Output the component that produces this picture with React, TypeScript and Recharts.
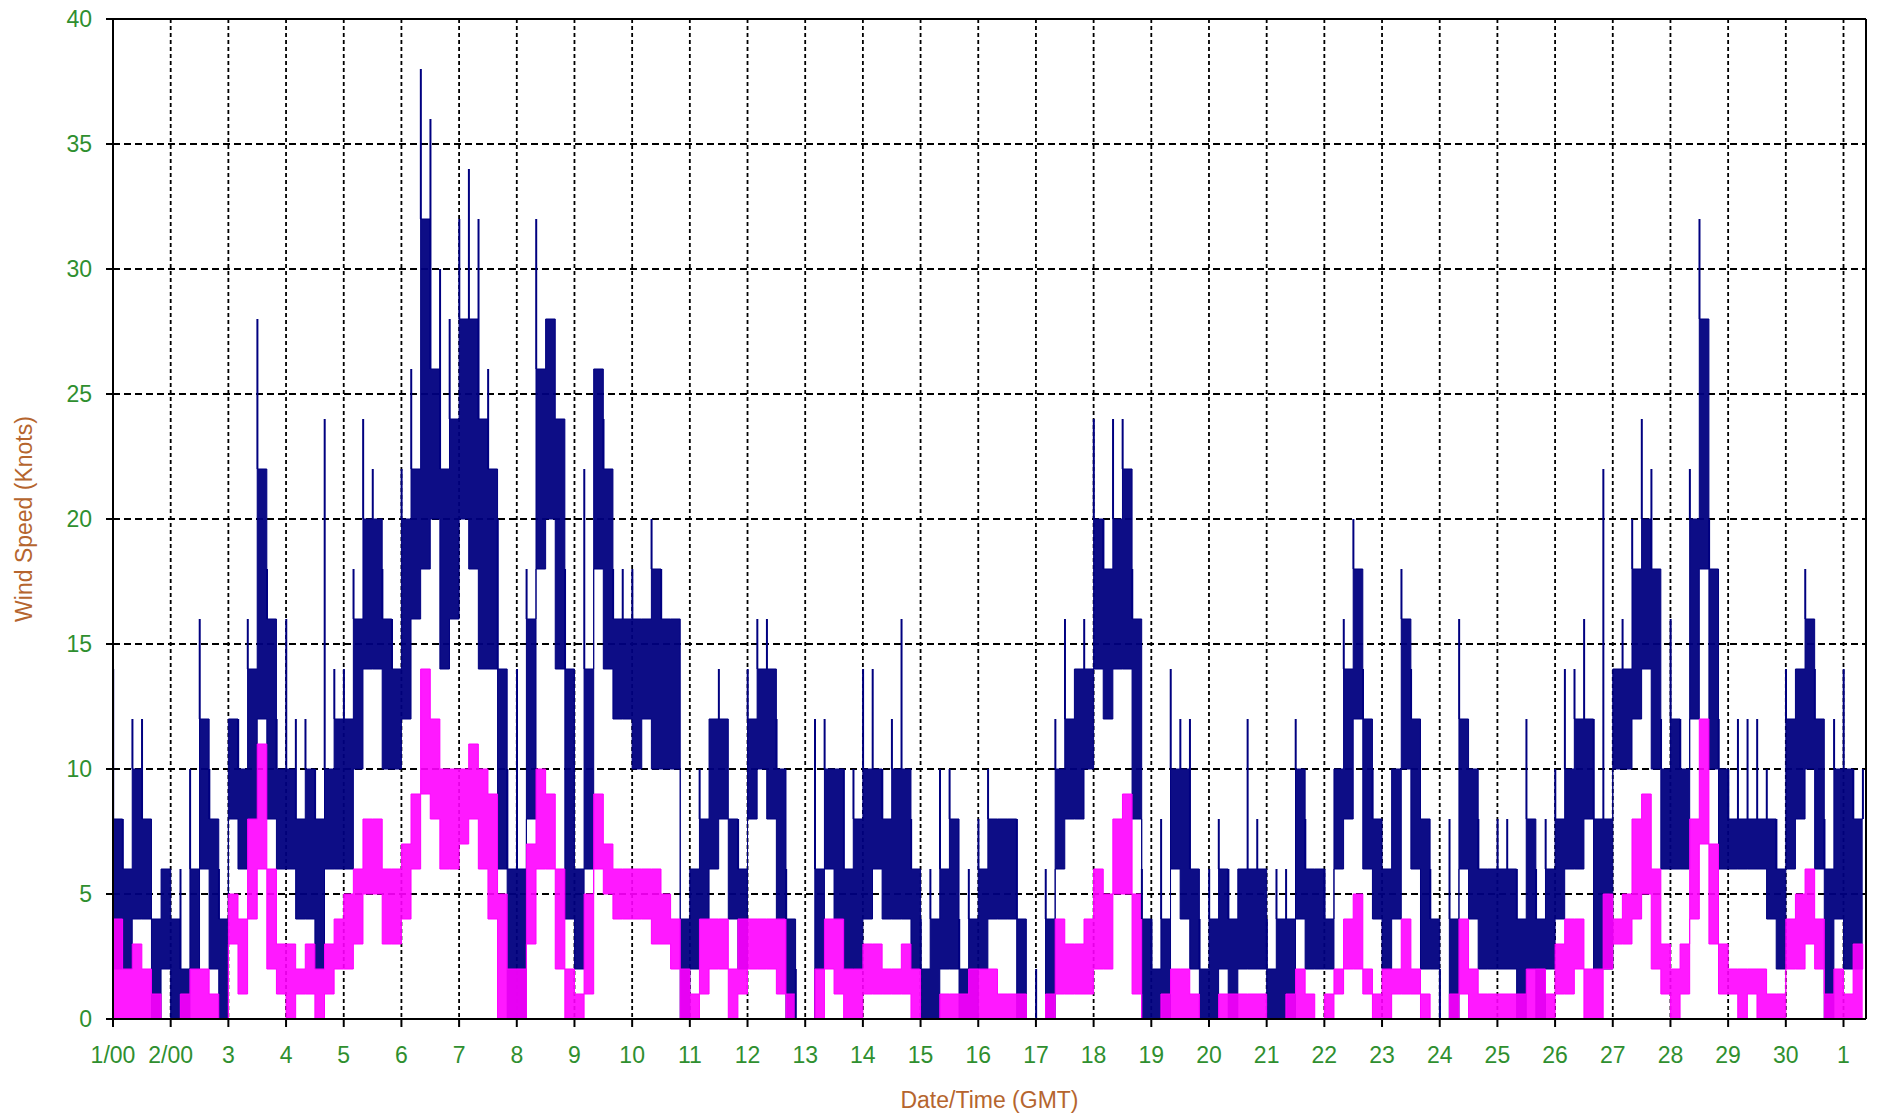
import {
  Area,
  Bar,
  CartesianGrid,
  ComposedChart,
  ReferenceLine,
  XAxis,
  YAxis,
} from 'recharts';

// #region Data — 4-hour slots (6 per day)
const SLOTS_PER_DAY = 6;

const dayLabels = [
  '1/00', '2/00', '3', '4', '5', '6', '7', '8', '9', '10', '11', '12', '13', '14', '15', '16',
  '17', '18', '19', '20', '21', '22', '23', '24', '25', '26', '27', '28', '29', '30', '1',
];

const speedTicks = [0, 5, 10, 15, 20, 25, 30, 35, 40];

// gust band: top of the dense navy thicket
const gustHi = [
  8, 6, 10, 8, 4, 6,
  4, 2, 6, 12, 8, 4,
  12, 10, 14, 22, 16, 10,
  10, 8, 10, 8, 10, 12,
  12, 16, 20, 20, 16, 14,
  20, 22, 32, 26, 22, 24,
  28, 28, 24, 22, 14, 6,
  6, 16, 26, 28, 24, 14,
  6, 14, 26, 22, 16, 16,
  16, 16, 18, 16, 16, 4,
  6, 8, 12, 12, 8, 6,
  12, 14, 14, 10, 4, 0,
  0, 6, 10, 10, 6, 8,
  10, 10, 8, 10, 10, 6,
  2, 4, 6, 8, 2, 4,
  6, 8, 8, 8, 4, 0,
  0, 4, 10, 12, 14, 14,
  20, 18, 20, 22, 16, 4,
  2, 4, 10, 10, 6, 2,
  4, 6, 4, 6, 6, 6,
  2, 4, 4, 10, 6, 6,
  4, 10, 14, 18, 12, 8,
  6, 10, 16, 12, 8, 4,
  0, 4, 12, 10, 6, 6,
  6, 6, 4, 8, 4, 6,
  8, 10, 12, 12, 8, 8,
  14, 14, 18, 20, 18, 10,
  12, 10, 20, 28, 18, 10,
  8, 8, 8, 8, 8, 6,
  12, 14, 16, 12, 6, 10,
  10, 8, 8,
];

// gust band: bottom of the dense navy thicket
const gustLo = [
  2, 2, 4, 4, 0, 2,
  0, 0, 2, 6, 2, 0,
  8, 6, 8, 12, 8, 6,
  6, 4, 4, 2, 6, 6,
  6, 10, 14, 14, 10, 10,
  12, 16, 18, 20, 14, 16,
  20, 18, 14, 14, 6, 0,
  0, 8, 18, 20, 14, 4,
  2, 6, 18, 14, 12, 12,
  10, 12, 10, 10, 10, 0,
  2, 4, 6, 8, 4, 2,
  8, 10, 8, 4, 0, 0,
  0, 2, 6, 4, 2, 2,
  4, 6, 4, 4, 4, 2,
  0, 0, 2, 2, 0, 0,
  2, 4, 4, 4, 0, 0,
  0, 0, 6, 8, 8, 10,
  14, 12, 14, 14, 8, 0,
  0, 0, 6, 4, 2, 0,
  0, 2, 0, 2, 2, 2,
  0, 0, 0, 4, 2, 2,
  2, 6, 8, 12, 6, 4,
  2, 4, 10, 6, 2, 2,
  0, 0, 6, 4, 2, 2,
  2, 2, 0, 2, 0, 2,
  4, 6, 6, 8, 2, 2,
  10, 10, 12, 14, 10, 6,
  6, 6, 12, 18, 10, 6,
  6, 6, 6, 6, 4, 2,
  6, 8, 10, 6, 0, 4,
  2, 2, 2,
];

// highest single gust spike in each slot
const gustPeak = [
  14, 8, 12, 12, 4, 6,
  4, 6, 10, 16, 10, 6,
  12, 12, 16, 28, 18, 12,
  16, 12, 12, 10, 24, 14,
  14, 18, 24, 22, 18, 16,
  22, 26, 38, 36, 30, 28,
  32, 34, 32, 26, 20, 10,
  14, 18, 32, 28, 24, 18,
  6, 22, 26, 24, 18, 18,
  18, 16, 20, 18, 16, 4,
  6, 10, 12, 14, 8, 8,
  14, 16, 16, 12, 6, 2,
  0, 12, 12, 10, 10, 10,
  14, 14, 10, 12, 16, 8,
  4, 6, 10, 10, 4, 6,
  8, 10, 8, 8, 8, 0,
  2, 6, 12, 16, 14, 16,
  24, 20, 24, 24, 18, 6,
  4, 8, 14, 12, 12, 4,
  6, 8, 6, 6, 12, 8,
  4, 6, 6, 12, 8, 6,
  6, 10, 16, 20, 14, 10,
  6, 10, 18, 14, 8, 6,
  2, 8, 16, 10, 8, 6,
  8, 8, 6, 12, 6, 8,
  10, 14, 14, 16, 12, 22,
  14, 16, 20, 24, 22, 12,
  16, 12, 22, 32, 20, 12,
  10, 12, 12, 12, 10, 8,
  14, 14, 18, 14, 8, 12,
  14, 10, 10,
];

// mean wind band (magenta)
const windHi = [
  4, 2, 3, 2, 1, 0,
  0, 1, 2, 2, 1, 0,
  5, 4, 8, 11, 6, 3,
  3, 2, 3, 2, 3, 4,
  5, 6, 8, 8, 6, 6,
  7, 9, 14, 12, 10, 10,
  10, 11, 10, 9, 5, 2,
  2, 7, 10, 9, 6, 2,
  1, 5, 9, 7, 6, 6,
  6, 6, 6, 5, 4, 2,
  1, 4, 4, 4, 2, 4,
  4, 4, 4, 4, 1, 0,
  0, 2, 4, 4, 2, 2,
  3, 3, 2, 2, 3, 2,
  0, 0, 1, 1, 1, 2,
  2, 2, 1, 1, 1, 0,
  0, 1, 4, 3, 3, 4,
  6, 5, 8, 9, 5, 0,
  0, 1, 2, 2, 1, 0,
  0, 1, 1, 1, 1, 1,
  0, 0, 1, 2, 1, 0,
  1, 2, 4, 5, 2, 1,
  2, 2, 4, 2, 1, 0,
  0, 1, 4, 2, 1, 1,
  1, 1, 1, 2, 2, 1,
  3, 4, 4, 2, 2, 5,
  4, 5, 8, 9, 6, 3,
  2, 3, 8, 12, 7, 3,
  2, 2, 2, 2, 1, 1,
  4, 5, 6, 4, 1, 2,
  1, 3, 2,
];

const windLo = [
  0, 0, 0, 0, 0, 0,
  0, 0, 0, 0, 0, 0,
  3, 1, 4, 6, 2, 1,
  0, 1, 1, 0, 1, 2,
  2, 3, 5, 5, 3, 3,
  4, 6, 9, 8, 6, 6,
  7, 8, 6, 4, 0, 0,
  0, 3, 6, 6, 2, 0,
  0, 1, 6, 5, 4, 4,
  4, 4, 3, 3, 2, 0,
  0, 1, 2, 2, 0, 1,
  2, 2, 2, 1, 0, 0,
  0, 0, 2, 1, 0, 0,
  1, 1, 1, 1, 1, 0,
  0, 0, 0, 0, 0, 0,
  0, 0, 0, 0, 0, 0,
  0, 0, 1, 1, 1, 1,
  2, 2, 5, 5, 1, 0,
  0, 0, 0, 0, 0, 0,
  0, 0, 0, 0, 0, 0,
  0, 0, 0, 0, 0, 0,
  0, 1, 2, 2, 1, 0,
  0, 1, 1, 1, 0, 0,
  0, 0, 1, 0, 0, 0,
  0, 0, 0, 0, 0, 0,
  1, 1, 2, 0, 0, 2,
  3, 3, 4, 5, 2, 1,
  0, 1, 4, 7, 3, 1,
  1, 0, 1, 0, 0, 0,
  2, 2, 3, 2, 0, 0,
  0, 0, 0,
];
// #endregion

const rows = gustHi.map((_, i) => ({
  t: i / SLOTS_PER_DAY,
  gust: [gustLo[i], gustHi[i]],
  spike: [gustHi[i], gustPeak[i]],
  wind: [windLo[i], windHi[i]],
}));

const NAVY = '#000080';
const MAGENTA = '#ff00ff';
const GREEN = '#2f8f2f';
const BROWN = '#b5652e';
const X_END = 30.39;

export default function App() {
  return (
    <div
      style={{
        position: 'absolute',
        left: 0,
        top: 0,
        width: 1878,
        height: 1117,
        background: '#fff',
        fontFamily: '"Liberation Sans", Arial, sans-serif',
      }}
    >
      <ComposedChart width={1878} height={1117} data={rows} margin={{ top: 19, right: 12, left: 0, bottom: 0 }}>
        <XAxis
          type="number"
          dataKey="t"
          domain={[0, X_END]}
          ticks={dayLabels.map((_, i) => i)}
          tickFormatter={(v: number) => dayLabels[v]}
          interval={0}
          height={98}
          tickSize={8}
          tickMargin={20}
          tick={{ fill: GREEN, fontSize: 23 }}
          axisLine={{ stroke: '#000', strokeWidth: 2 }}
          tickLine={{ stroke: '#000', strokeWidth: 2 }}
          label={{
            value: 'Date/Time (GMT)',
            position: 'insideBottom',
            offset: 9,
            fill: BROWN,
            fontSize: 23,
          }}
        />
        <YAxis
          type="number"
          domain={[0, 40]}
          ticks={speedTicks}
          interval={0}
          width={113}
          tickSize={7}
          tickMargin={14}
          tick={{ fill: GREEN, fontSize: 23 }}
          axisLine={{ stroke: '#000', strokeWidth: 2 }}
          tickLine={{ stroke: '#000', strokeWidth: 2 }}
          label={{
            value: 'Wind Speed (Knots)',
            angle: -90,
            position: 'insideLeft',
            offset: 24,
            fill: BROWN,
            fontSize: 23,
            style: { textAnchor: 'middle' },
          }}
        />
        <Area
          dataKey="gust"
          type="stepAfter"
          stroke={NAVY}
          strokeWidth={1}
          fill={NAVY}
          fillOpacity={0.95}
          isAnimationActive={false}
        />
        <Bar dataKey="spike" barSize={2} fill={NAVY} isAnimationActive={false} />
        <Area
          dataKey="wind"
          type="stepAfter"
          stroke={MAGENTA}
          strokeWidth={1}
          fill={MAGENTA}
          fillOpacity={0.9}
          isAnimationActive={false}
        />
        <CartesianGrid horizontal vertical={false} stroke="#000" strokeWidth={1.8} strokeDasharray="7 4" />
        <CartesianGrid horizontal={false} vertical stroke="#000" strokeWidth={1.8} strokeDasharray="4 3" />
        <ReferenceLine y={40} stroke="#000" strokeWidth={2} />
        <ReferenceLine x={X_END} stroke="#000" strokeWidth={2} />
      </ComposedChart>
    </div>
  );
}
